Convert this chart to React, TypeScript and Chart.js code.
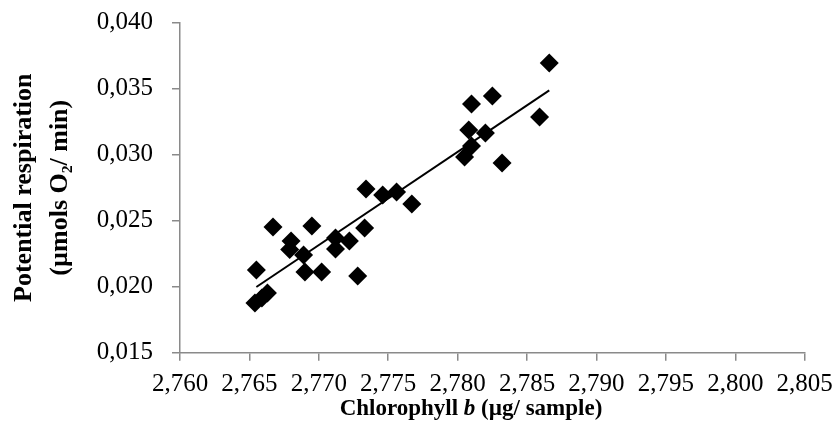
import React, { useEffect, useRef } from "react";
import { Chart, registerables } from "chart.js";

Chart.register(...registerables);

// Chlorophyll b (µg/ sample)
const chlorophyllB: number[] = [
  2.7654, 2.7659, 2.7663, 2.7655, 2.7667, 2.768, 2.7679, 2.7689, 2.769, 2.7695,
  2.7702, 2.7712, 2.7712, 2.7722, 2.7728, 2.7733, 2.7734, 2.7746, 2.7756, 2.7767,
  2.7805, 2.781, 2.7808, 2.781, 2.782, 2.7825, 2.7832, 2.7859, 2.7866,
];
// Potential respiration (µmols O2/ min)
const respiration: number[] = [
  0.01877, 0.01914, 0.01952, 0.02127, 0.02452, 0.02346, 0.02282, 0.0224, 0.02111, 0.0246,
  0.02111, 0.02369, 0.02286, 0.02346, 0.02081, 0.02445, 0.0274, 0.02695, 0.02717, 0.02626,
  0.02983, 0.03066, 0.03187, 0.03384, 0.03164, 0.03445, 0.02937, 0.03286, 0.03695,
];
// linear trend line end points
const trendX: number[] = [2.7655, 2.7866];
const trendY: number[] = [0.01998, 0.03487];

const xTicks: number[] = [2.76, 2.765, 2.77, 2.775, 2.78, 2.785, 2.79, 2.795, 2.8, 2.805];
const yTicks: number[] = [0.015, 0.02, 0.025, 0.03, 0.035, 0.04];

const yTitle: string[] = ["Potential respiration", "(µmols O\u2082/ min)"];
const xTitleParts: { text: string; italic: boolean }[] = [
  { text: "Chlorophyll ", italic: false },
  { text: "b", italic: true },
  { text: " (µg/ sample)", italic: false },
];

const FONT = "'Liberation Serif', 'Times New Roman', serif";
const AXIS_COLOR = "#8a8a8a";

const fmt = (v: number) => v.toFixed(3).replace(".", ",");

const xTitlePlugin = {
  id: "xTitlePlugin",
  afterDraw(chart: any) {
    const ctx = chart.ctx as CanvasRenderingContext2D;
    const size = 23;
    ctx.save();
    ctx.fillStyle = "#000";
    ctx.textBaseline = "middle";
    ctx.textAlign = "left";
    const fontFor = (it: boolean) => `${it ? "italic " : ""}bold ${size}px ${FONT}`;
    let total = 0;
    const widths = xTitleParts.map((p) => {
      ctx.font = fontFor(p.italic);
      const w = ctx.measureText(p.text).width;
      total += w;
      return w;
    });
    let x = 471 - total / 2;
    const y = 409;
    xTitleParts.forEach((p, i) => {
      ctx.font = fontFor(p.italic);
      ctx.fillText(p.text, x, y);
      x += widths[i];
    });
    ctx.restore();
  },
};

export default function App() {
  const canvasRef = useRef<HTMLCanvasElement | null>(null);

  useEffect(() => {
    document.body.style.margin = "0";
    const canvas = canvasRef.current;
    if (!canvas) return;

    const chart = new Chart(canvas, {
      type: "scatter",
      data: {
        datasets: [
          {
            type: "line",
            label: "Trend",
            data: trendX.map((x, i) => ({ x, y: trendY[i] })),
            borderColor: "#000",
            borderWidth: 2,
            pointRadius: 0,
            fill: false,
            order: 0,
          } as any,
          {
            type: "scatter",
            label: "Samples",
            data: chlorophyllB.map((x, i) => ({ x, y: respiration[i] })),
            pointStyle: "rectRot",
            pointRadius: 9.5,
            pointBackgroundColor: "#000",
            pointBorderColor: "#000",
            pointBorderWidth: 0,
            order: 1,
          } as any,
        ],
      },
      options: {
        animation: false,
        responsive: false,
        maintainAspectRatio: false,
        layout: { padding: { top: 22.7, right: 32.3, left: 0, bottom: 0 } },
        plugins: {
          legend: { display: false },
          tooltip: { enabled: false },
        },
        scales: {
          x: {
            type: "linear",
            min: 2.76,
            max: 2.805,
            afterBuildTicks: (scale: any) => {
              scale.ticks = xTicks.map((v) => ({ value: v }));
            },
            afterFit: (scale: any) => {
              scale.height = 90.3;
              scale.paddingLeft = 0;
              scale.paddingRight = 0;
            },
            grid: {
              drawOnChartArea: false,
              drawTicks: true,
              tickLength: 8,
              color: AXIS_COLOR,
              lineWidth: 1.5,
            },
            border: { display: true, color: AXIS_COLOR, width: 1.5 },
            ticks: {
              color: "#000",
              font: { family: FONT, size: 25 },
              padding: 9,
              maxRotation: 0,
              autoSkip: false,
              callback: (v: any) => fmt(Number(v)),
            },
          },
          y: {
            type: "linear",
            min: 0.015,
            max: 0.04,
            afterBuildTicks: (scale: any) => {
              scale.ticks = yTicks.map((v) => ({ value: v }));
            },
            afterFit: (scale: any) => {
              scale.width = 180;
              scale.paddingTop = 0;
              scale.paddingBottom = 0;
            },
            grid: {
              drawOnChartArea: false,
              drawTicks: true,
              tickLength: 8,
              color: AXIS_COLOR,
              lineWidth: 1.5,
            },
            border: { display: true, color: AXIS_COLOR, width: 1.5 },
            ticks: {
              color: "#000",
              font: { family: FONT, size: 25 },
              padding: 19,
              autoSkip: false,
              callback: (v: any) => fmt(Number(v)),
            },
            title: {
              display: true,
              text: yTitle,
              color: "#000",
              font: { family: FONT, size: 26, weight: "bold", lineHeight: 1.38 },
              padding: { top: 6, bottom: 0 },
            },
          },
        },
      },
      plugins: [xTitlePlugin],
    } as any);

    return () => chart.destroy();
  }, []);

  return (
    <div style={{ width: 837, height: 443, position: "relative" }}>
      <canvas ref={canvasRef} width={837} height={443} style={{ display: "block" }} />
    </div>
  );
}
